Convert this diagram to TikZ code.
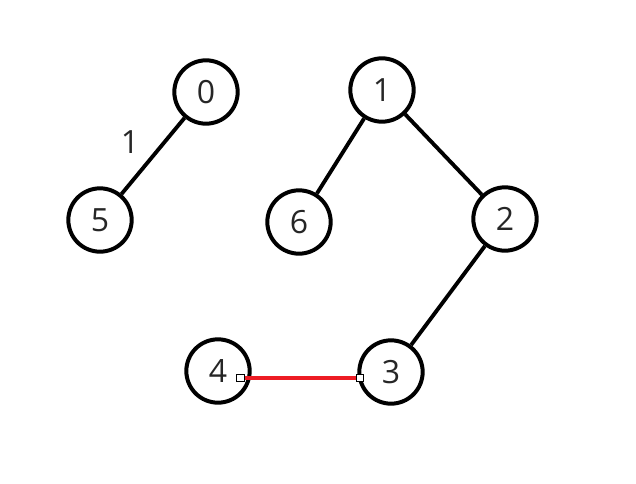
\documentclass[tikz,border=0pt]{standalone}
\usepackage{fontspec}
\setmainfont{Open Sans}
\definecolor{edgered}{RGB}{237,28,36}
\begin{document}
\begin{tikzpicture}[x=0.75pt,y=-0.75pt,
  vertex/.style={circle,draw=black,line width=3pt,fill=white,minimum size=47.5pt,inner sep=0pt,font=\fontsize{24}{24}\selectfont,text=black!85},
  link/.style={draw=black,line width=2.9pt},
  redlink/.style={draw=edgered,line width=3pt},
  handle/.style={rectangle,draw=black,fill=white,line width=0.8pt,minimum size=5.5pt,inner sep=0pt},
  lbl/.style={font=\fontsize{24}{24}\selectfont,text=black!85}]
\useasboundingbox (0,0) rectangle (636,483);
\node[vertex] (n0) at (206,92) {0};
\node[vertex] (n1) at (382,90) {1};
\node[vertex] (n5) at (100,220) {5};
\node[vertex] (n6) at (299,222) {6};
\node[vertex] (n2) at (505,219) {2};
\node[vertex] (n4) at (218,371) {4};
\node[vertex] (n3) at (391,372) {3};
\draw[link] (n0) -- (n5);
\draw[link] (n1) -- (n6);
\draw[link] (n1) -- (n2);
\draw[link] (n2) -- (n3);
\coordinate (h4) at (240.5,378);
\coordinate (h3) at (360,378);
\draw[redlink] (h4) -- (h3);
\node[handle] (s4) at (h4) {};
\node[handle] (s3) at (h3) {};
\node[lbl] (w05) at (130,142) {1};
\end{tikzpicture}
\end{document}
